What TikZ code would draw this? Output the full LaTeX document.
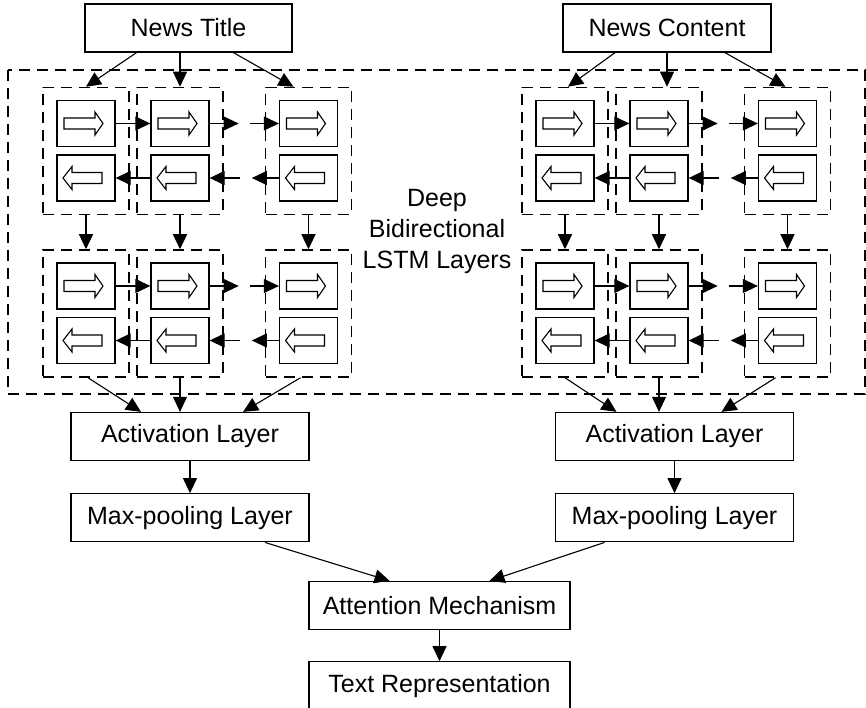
\documentclass[tikz,border=0pt]{standalone}
\usepackage{fontspec}
\setmainfont{Liberation Sans}
\usetikzlibrary{positioning, arrows.meta}
\tikzstyle{line} = [draw, line width=1.1pt, -{Triangle[length=15pt,width=14pt]}]
\tikzstyle{block} = [rectangle, draw, line width=1.3pt, minimum height=48pt,
    inner sep=0pt, text centered]
\tikzstyle{cellbox} = [rectangle, draw, line width=1.5pt, dash pattern=on 11pt off 7pt,
    minimum width=86pt, minimum height=127pt]
\tikzstyle{unit} = [rectangle, draw, line width=1.3pt, minimum width=58pt, minimum height=46pt]
\tikzset{
  fwdarrow/.pic={\draw[line width=1.1pt] (-22,-5.5) -- (9,-5.5) -- (9,-11.5) -- (17,0)
      -- (9,11.5) -- (9,5.5) -- (-22,5.5) -- cycle;},
  bwdarrow/.pic={\draw[line width=1.1pt] (16,-5.5) -- (-14,-5.5) -- (-14,-11.5) -- (-23,0)
      -- (-14,11.5) -- (-14,5.5) -- (16,5.5) -- cycle;}
}
% one LSTM cell: dashed frame, forward and backward unit
\newcommand{\lstmcell}[3]{%
  \node[cellbox] (#1) at (#2,#3) {};
  \node[unit] (#1f) at (#2,{#3-27.5}) {};
  \node[unit] (#1b) at (#2,{#3+27}) {};
  \pic at (#1f) {fwdarrow};
  \pic at (#1b) {bwdarrow};
}

\begin{document}
\begin{tikzpicture}[x=1pt, y=-1pt, font=\fontsize{25pt}{31pt}\selectfont]
      \useasboundingbox (0,0) rectangle (866,708);

      % Place nodes
      \node [block, minimum width=207pt] (ntitle) at (188.5,28) {News Title};
      \node [block, minimum width=208pt] (ncontent) at (667,28) {News Content};

      \draw [line width=1.5pt, dash pattern=on 11pt off 7pt] (8,70) rectangle (865,394);
      \node [align=center] (deep) at (437,231) {Deep\\Bidirectional\\LSTM Layers};

      \foreach \g/\xa/\xb/\xc in {l/86/180/308.5, r/565/659/787.5} {
        \foreach \row/\yy in {1/151, 2/313.5} {
          \lstmcell{\g\row1}{\xa}{\yy}
          \lstmcell{\g\row2}{\xb}{\yy}
          \lstmcell{\g\row3}{\xc}{\yy}
          % forward direction
          \coordinate (\g\row p) at ([xshift=29pt]\g\row2f.east);
          \coordinate (\g\row q) at ([xshift=-29pt]\g\row3f.west);
          \path [line] (\g\row1f) -- (\g\row2f);
          \path [line] (\g\row2f) -- (\g\row p);
          \path [line] (\g\row q) -- (\g\row3f);
          % backward direction
          \coordinate (\g\row s) at ([xshift=-27pt]\g\row3b.west);
          \coordinate (\g\row t) at ([xshift=30pt]\g\row2b.east);
          \path [line] (\g\row3b) -- (\g\row s);
          \path [line] (\g\row t) -- (\g\row2b);
          \path [line] (\g\row2b) -- (\g\row1b);
        }
        \path [line] (\g11) -- (\g21);
        \path [line] (\g12) -- (\g22);
        \path [line] (\g13) -- (\g23);
      }

      \path [line] ([xshift=-52pt]ntitle.south) -- (l11.north);
      \path [line] (ntitle.south -| l12.north) -- (l12.north);
      \path [line] ([xshift=45pt]ntitle.south) -- ([xshift=-15pt]l13.north);
      \path [line] ([xshift=-52pt]ncontent.south) -- ([xshift=3pt]r11.north);
      \path [line] (ncontent.south) -- (ncontent.south |- r12.north);
      \path [line] ([xshift=58pt]ncontent.south) -- ([xshift=-2pt]r13.north);

      \node [block, minimum width=238pt] (lact) at (190,436.5) {Activation Layer};
      \node [block, minimum width=238pt, below=32pt of lact] (lmax) {Max-pooling Layer};
      \node [block, minimum width=238pt] (ract) at (674.5,436.5) {Activation Layer};
      \node [block, minimum width=238pt, below=32pt of ract] (rmax) {Max-pooling Layer};

      \path [line] ([xshift=2pt]l21.south) -- ([xshift=-49pt]lact.north);
      \path [line] (l22.south) -- (l22.south |- lact.north);
      \path [line] ([xshift=-8pt]l23.south) -- ([xshift=53pt]lact.north);
      \path [line] (r21.south) -- ([xshift=-58pt]ract.north);
      \path [line] (r22.south) -- (r22.south |- ract.north);
      \path [line] ([xshift=-12pt]r23.south) -- ([xshift=47pt]ract.north);

      \path [line] (lact) -- (lmax);
      \path [line] (ract) -- (rmax);

      \node [block, minimum width=261pt] (att) at (439.5,605.5) {Attention Mechanism};
      \node [block, minimum width=261pt, below=31pt of att] (txt) {Text Representation};

      \path [line] ([xshift=75pt]lmax.south) -- ([xshift=-50pt]att.north);
      \path [line] ([xshift=-70pt]rmax.south) -- ([xshift=50pt]att.north);
      \path [line] (att) -- (txt);
\end{tikzpicture}
\end{document}
